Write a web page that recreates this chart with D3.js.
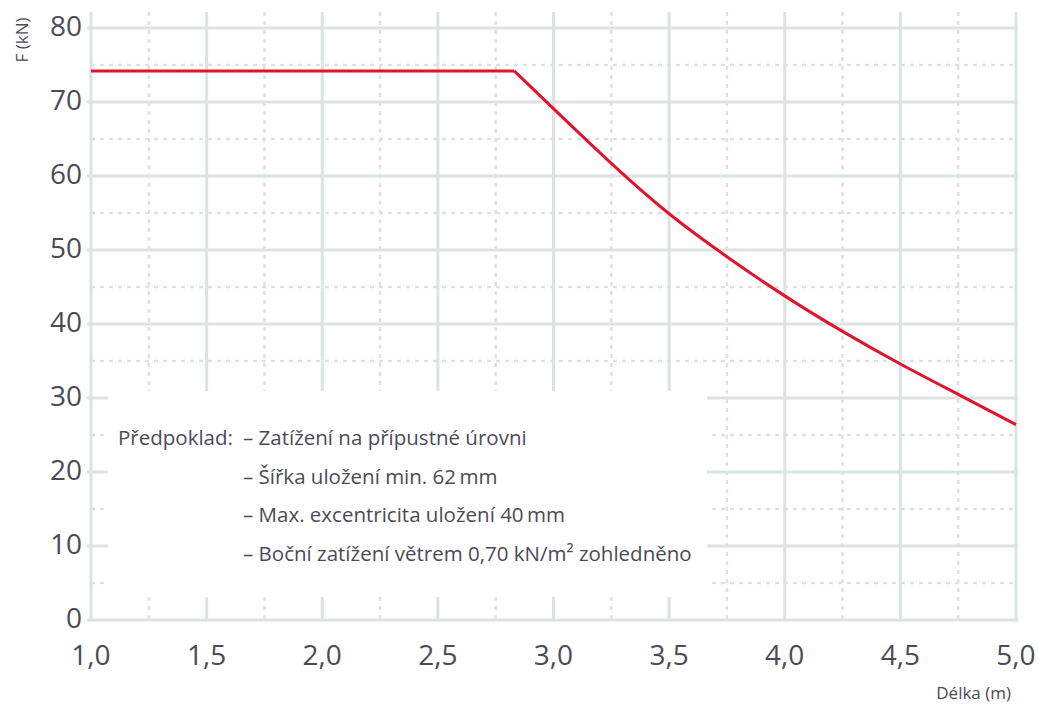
<!DOCTYPE html>
<html>
<head>
<meta charset="utf-8">
<script src="https://cdn.jsdelivr.net/npm/d3@7"></script>
<style>
  body { margin: 0; background: #fff; }
  svg text { font-family: "Open Sans", sans-serif; fill: #4b4b58; }
</style>
</head>
<body>
<div id="chart"></div>
<script>
// data
const flatPart = [[1.0, 74.2], [2.83, 74.2]];
const dropPart = [[2.83, 74.2], [3.0, 69.1], [3.25, 61.7], [3.5, 54.9], [3.75, 49.1],
                  [4.0, 43.8], [4.25, 39.0], [4.5, 34.6], [4.75, 30.5], [5.0, 26.4]];
const xTicks = [1.0, 1.5, 2.0, 2.5, 3.0, 3.5, 4.0, 4.5, 5.0];
const xMinor = [1.25, 1.75, 2.25, 2.75, 3.25, 3.75, 4.25, 4.75];
const yTicks = [0, 10, 20, 30, 40, 50, 60, 70, 80];
const yMinor = [5, 15, 25, 35, 45, 55, 65, 75];
const notes = [
  '– Zatížení na přípustné úrovni',
  '– Šířka uložení min. 62\u2009mm',
  '– Max. excentricita uložení 40\u2009mm',
  '– Boční zatížení větrem 0,70 kN/m² zohledněno'
];

const width = 1039, height = 706;
const gridCol = '#dde3e3';

const svg = d3.select('#chart').append('svg')
    .attr('width', width)
    .attr('height', height);

const x = d3.scaleLinear().domain([1, 5]).range([91, 1016]);
const y = d3.scaleLinear().domain([0, 80]).range([620, 28]);
const gridTop = 12;

// minor dotted grid
svg.append('g').selectAll('line')
    .data(xMinor).enter().append('line')
    .attr('x1', d => x(d)).attr('x2', d => x(d))
    .attr('y1', gridTop).attr('y2', y(0))
    .attr('stroke', gridCol).attr('stroke-width', 2.5)
    .attr('stroke-dasharray', '4,5');

svg.append('g').selectAll('line')
    .data(yMinor).enter().append('line')
    .attr('x1', x(1)).attr('x2', x(5) + 2)
    .attr('y1', d => y(d)).attr('y2', d => y(d))
    .attr('stroke', gridCol).attr('stroke-width', 2.5)
    .attr('stroke-dasharray', '4,5');

// major grid
svg.append('g').selectAll('line')
    .data(xTicks).enter().append('line')
    .attr('x1', d => x(d)).attr('x2', d => x(d))
    .attr('y1', gridTop).attr('y2', y(0) + 1.5)
    .attr('stroke', gridCol).attr('stroke-width', 3);

svg.append('g').selectAll('line')
    .data(yTicks).enter().append('line')
    .attr('x1', x(1) - 4).attr('x2', x(5) + 2)
    .attr('y1', d => y(d)).attr('y2', d => y(d))
    .attr('stroke', gridCol).attr('stroke-width', 3);

// white box for the note
svg.append('rect')
    .attr('x', 108).attr('y', 391)
    .attr('width', 599).attr('height', 206)
    .attr('fill', '#fff');

// tick labels
svg.append('g').selectAll('text')
    .data(yTicks).enter().append('text')
    .attr('x', 82)
    .attr('y', d => y(d) - 2)
    .attr('dy', '0.36em')
    .attr('text-anchor', 'end')
    .style('font-size', '28px')
    .text(d => d);

svg.append('g').selectAll('text')
    .data(xTicks).enter().append('text')
    .attr('x', d => x(d))
    .attr('y', 665)
    .attr('text-anchor', 'middle')
    .style('font-size', '28px')
    .text(d => d3.format('.1f')(d).replace('.', ','));

// axis titles
svg.append('text')
    .attr('transform', 'translate(28,40) rotate(-90)')
    .attr('text-anchor', 'middle')
    .style('font-size', '17px')
    .text('F (kN)');

svg.append('text')
    .attr('x', 1011).attr('y', 699)
    .attr('text-anchor', 'end')
    .style('font-size', '17px')
    .text('Délka (m)');

// the curve
const line = d3.line().x(d => x(d[0])).y(d => y(d[1]));
svg.append('path')
    .datum(flatPart)
    .attr('d', line)
    .attr('fill', 'none')
    .attr('stroke', '#e2142d')
    .attr('stroke-width', 3);

svg.append('path')
    .datum(dropPart)
    .attr('d', line.curve(d3.curveNatural))
    .attr('fill', 'none')
    .attr('stroke', '#e2142d')
    .attr('stroke-width', 3);

// note text
const note = svg.append('g').style('font-size', '20.5px');
note.append('text')
    .attr('x', 118).attr('y', 445)
    .text('Předpoklad:');
note.selectAll('text.item')
    .data(notes).enter().append('text')
    .attr('class', 'item')
    .attr('x', 243)
    .attr('y', (d, i) => 445 + i * 38.5)
    .text(d => d);
</script>
</body>
</html>
